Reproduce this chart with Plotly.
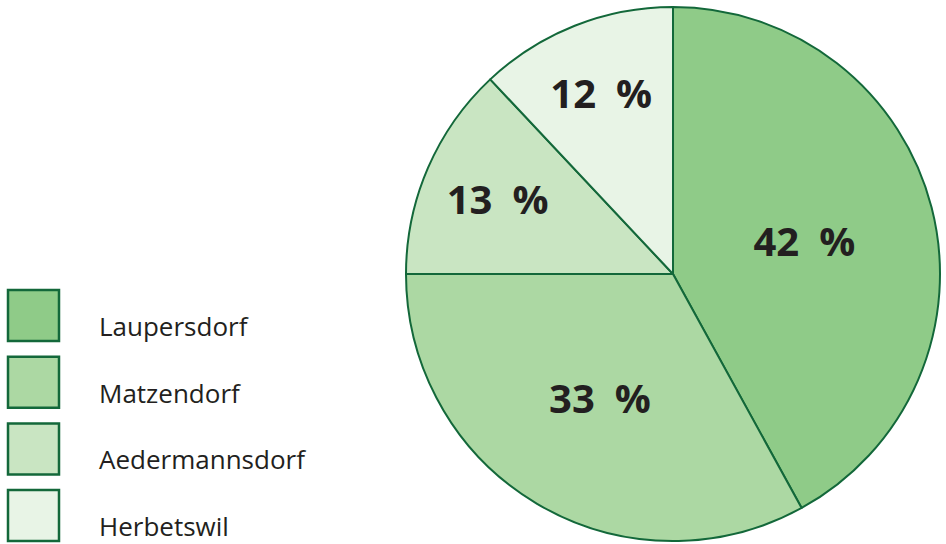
import plotly.graph_objects as go

categories = ["Laupersdorf", "Matzendorf", "Aedermannsdorf", "Herbetswil"]
values = [42, 33, 13, 12]
colors = ["#8fcb88", "#acd8a3", "#c9e5c2", "#e8f4e6"]
line_color = "#13683a"

W, H = 946, 544

fig = go.Figure()
fig.add_trace(go.Pie(
    labels=categories,
    values=values,
    sort=False,
    direction="clockwise",
    rotation=0,
    marker=dict(colors=colors, line=dict(color=line_color, width=2)),
    texttemplate="%{value}\u2002%",
    textposition="inside",
    insidetextorientation="horizontal",
    textfont=dict(family="Open Sans", size=40, color="#231f20", weight="bold"),
    domain=dict(x=[(673 - 267) / W, (673 + 267) / W], y=[(270 - 267) / H, (270 + 267) / H]),
    showlegend=False,
    hoverinfo="label+percent",
))

# custom legend built from categories
shapes = []
annotations = []
box = 51
top0 = 290
pitch = 66.7
for i, (cat, col) in enumerate(zip(categories, colors)):
    y0 = top0 + i * pitch
    shapes.append(dict(type="rect", xref="paper", yref="paper",
                       x0=8 / W, x1=(8 + box) / W,
                       y0=1 - (y0 + box) / H, y1=1 - y0 / H,
                       fillcolor=col, line=dict(color=line_color, width=2.5)))
    annotations.append(dict(xref="paper", yref="paper", x=98 / W, y=1 - (y0 + 36) / H,
                            text=cat, showarrow=False, xanchor="left", yanchor="middle",
                            borderpad=0,
                            font=dict(family="Open Sans", size=26, color="#231f20")))

fig.update_layout(
    width=W, height=H,
    margin=dict(l=0, r=0, t=0, b=0),
    paper_bgcolor="white",
    plot_bgcolor="white",
    shapes=shapes,
    annotations=annotations,
)

fig.write_html("out.html")
